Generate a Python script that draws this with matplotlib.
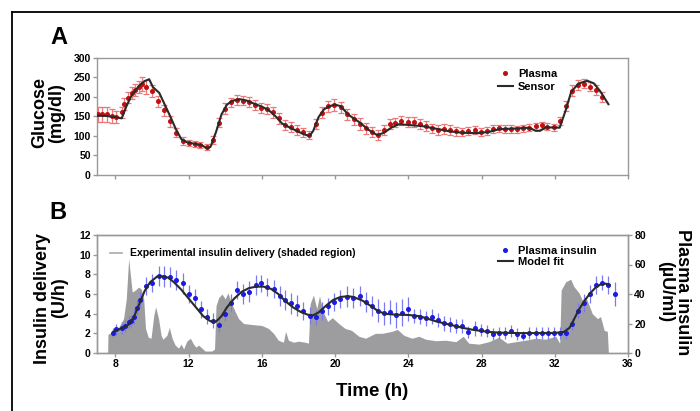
import matplotlib.pyplot as plt
from matplotlib.lines import Line2D

plt.rcParams["font.family"] = ["Liberation Sans", "DejaVu Sans"]
plt.rcParams["font.weight"] = "bold"

# ---- panel A: glucose ----
glu_t = [7.05, 7.3, 7.55, 7.8, 8.05, 8.35, 8.5, 8.7, 8.9, 9.1, 9.27, 9.45, 9.7, 10.0, 10.35,
         10.65, 11.0, 11.33, 11.67, 12.0, 12.33, 12.65, 13.0, 13.33, 13.65, 14.0, 14.3, 14.65,
         15.0, 15.3, 15.65, 15.95, 16.3, 16.6, 16.95, 17.27, 17.6, 17.95, 18.27, 18.6, 18.95,
         19.27, 19.62, 19.95, 20.3, 20.65, 21.03, 21.34, 21.67, 22.0, 22.32, 22.65, 22.98, 23.3,
         23.62, 23.96, 24.3, 24.64, 24.97, 25.3, 25.64, 25.97, 26.3, 26.62, 26.95, 27.28, 27.62,
         27.95, 28.28, 28.63, 28.95, 29.28, 29.63, 29.96, 30.28, 30.6, 30.96, 31.29, 31.6, 31.94,
         32.27, 32.6, 32.94, 33.27, 33.6, 33.95, 34.27, 34.6]
glu_plasma = [155, 155, 155, 152, 149, 160, 182, 198, 210, 218, 225, 232, 226, 215, 188,
              165, 137, 108, 88, 82, 80, 76, 71, 89, 134, 170, 186, 192,
              190, 186, 180, 172, 168, 160, 145, 128, 123, 115, 109, 102, 130,
              159, 176, 179, 173, 155, 142, 130, 119, 111, 102, 115, 130, 134,
              139, 136, 136, 130, 125, 119, 115, 117, 115, 112, 111, 112, 115,
              110, 113, 117, 119, 118, 117, 117, 119, 121, 125, 127, 124, 122,
              138, 176, 215, 230, 234, 226, 217, 199]
glu_err = [20, 20, 20, 18, 15, 15, 15, 15, 16, 16, 16, 18, 18, 15, 14,
           14, 13, 12, 10, 8, 8, 8, 8, 10, 12, 14, 12, 12,
           12, 13, 13, 13, 13, 14, 14, 13, 12, 12, 12, 10, 12,
           14, 14, 15, 14, 14, 14, 15, 14, 13, 12, 13, 12, 12,
           12, 12, 12, 12, 12, 12, 13, 13, 13, 12, 10, 10, 10,
           9, 10, 10, 10, 10, 10, 9, 9, 9, 9, 9, 9, 9,
           10, 12, 14, 13, 12, 12, 12, 12]

sensor_t = [7.0, 7.5, 8.0, 8.35, 8.6, 8.9, 9.3, 9.6, 9.85, 10.05, 10.4, 10.7, 11.0, 11.3, 11.6,
            11.9, 12.3, 12.7, 13.0, 13.2, 13.5, 13.8, 14.1, 14.4, 14.8, 15.2, 15.6, 16.0, 16.4,
            16.8, 17.1, 17.5, 17.9, 18.3, 18.6, 18.8, 19.1, 19.4, 19.7, 20.0, 20.3, 20.76, 21.3,
            21.85, 22.3, 22.67, 23.1, 23.5, 24.0, 24.77, 25.1, 25.68, 26.2, 26.95, 27.7, 28.4,
            28.95, 29.9, 30.6, 30.96, 31.2, 31.5, 32.27, 32.6, 32.9, 33.3, 33.78, 34.15, 34.5, 34.93]
sensor = [152, 151, 148, 145, 175, 205, 228, 240, 245, 225, 210, 180, 150, 118, 92,
          84, 80, 77, 68, 72, 110, 155, 180, 190, 194, 190, 182, 175, 165,
          148, 132, 122, 113, 104, 100, 112, 148, 168, 176, 180, 176, 153, 136,
          115, 102, 108, 122, 130, 128, 125, 122, 117, 112, 108, 107, 110,
          117, 119, 121, 113, 113, 122, 121, 166, 213, 234, 241, 234, 213, 181]

# ---- panel B: insulin ----
ins_t = [7.87, 8.04, 8.36, 8.55, 8.76, 8.87, 9.0, 9.18, 9.33, 9.7, 10.0, 10.36, 10.67, 11.0,
         11.33, 11.67, 12.0, 12.33, 12.67, 13.0, 13.33, 13.66, 14.0, 14.32, 14.66, 15.0, 15.3,
         15.66, 15.98, 16.3, 16.64, 16.97, 17.29, 17.6, 17.95, 18.27, 18.62, 18.96, 19.28, 19.64,
         19.97, 20.28, 20.64, 20.98, 21.34, 21.67, 22.0, 22.32, 22.65, 22.98, 23.31, 23.64, 23.96,
         24.31, 24.64, 24.97, 25.31, 25.64, 25.97, 26.3, 26.62, 26.95, 27.28, 27.62, 27.95, 28.28,
         28.63, 28.95, 29.28, 29.63, 29.96, 30.28, 30.61, 30.96, 31.29, 31.61, 31.94, 32.27, 32.62,
         32.94, 33.27, 33.6, 33.95, 34.27, 34.6, 34.93, 35.28]
ins_plasma = [13.8, 16.0, 16.7, 18.2, 21.2, 21.8, 24.6, 30.8, 36.2, 45.4, 47.5, 52.2, 51.7, 51.5,
              49.5, 47.2, 39.9, 37.4, 29.5, 24.6, 21.8, 19.3, 26.4, 34.2, 42.5, 39.9, 41.6,
              46.0, 47.2, 44.8, 43.2, 38.6, 35.9, 33.6, 32.2, 28.6, 25.4, 24.3, 28.4, 31.6,
              34.8, 36.5, 38.2, 37.3, 38.6, 34.6, 31.9, 28.7, 26.9, 27.8, 25.8, 27.3, 29.8,
              25.1, 24.6, 23.5, 24.6, 22.4, 20.1, 19.4, 18.3, 18.3, 14.5, 16.7, 15.6, 14.9,
              12.9, 13.8, 13.8, 14.9, 12.9, 11.8, 13.8, 13.3, 13.3, 13.3, 13.8, 13.8, 13.3,
              19.7, 28.7, 34.1, 40.0, 46.1, 47.7, 46.1, 39.8]
ins_err = [3, 4, 4, 4, 4, 4, 5, 5, 5, 6, 6, 7, 7, 7,
           7, 7, 6, 6, 6, 5, 5, 5, 5, 6, 6, 7, 7,
           7, 6, 6, 6, 7, 7, 7, 7, 6, 6, 5, 6, 6,
           6, 6, 7, 7, 7, 7, 7, 8, 8, 8, 9, 9, 8,
           5, 5, 5, 5, 5, 5, 5, 5, 5, 4, 5, 4, 4,
           4, 4, 4, 4, 4, 3, 4, 4, 4, 4, 4, 4, 4,
           4, 5, 6, 6, 6, 5, 6, 8]

fit_t = [7.9, 8.3, 8.7, 9.0, 9.3, 9.6, 9.9, 10.3, 10.6, 10.9, 11.2, 11.6, 12.0, 12.4, 12.8, 13.2,
         13.5, 13.8, 14.1, 14.5, 14.9, 15.3, 15.7, 16.1, 16.5, 16.9, 17.3, 17.7, 18.1, 18.5, 18.8,
         19.1, 19.5, 19.9, 20.3, 20.7, 21.0, 21.5, 22.0, 22.4, 22.8, 23.3, 24.0, 24.6, 25.0, 25.5,
         26.0, 26.5, 27.0, 27.5, 28.0, 28.5, 29.0, 30.0, 31.0, 32.0, 32.5, 32.8, 33.0, 33.3, 33.6,
         33.9, 34.2, 34.5, 34.8, 35.0]
fit = [14.5, 16.5, 19.0, 24.0, 33.0, 42.0, 48.0, 52.0, 52.0, 51.0, 48.0, 43.0, 37.0, 31.0, 25.0, 21.5,
       21.3, 25.0, 31.0, 37.0, 41.5, 44.0, 45.0, 45.0, 43.5, 40.0, 35.0, 31.0, 28.0, 26.0, 25.5,
       27.5, 32.0, 36.0, 38.0, 38.5, 38.0, 35.5, 31.5, 28.0, 26.5, 26.0, 25.8, 25.0, 23.5, 21.5,
       20.0, 18.5, 17.0, 15.8, 14.9, 14.2, 13.8, 13.5, 13.5, 13.6, 14.3, 17.0, 21.5, 29.0, 35.0,
       40.0, 44.0, 46.5, 47.0, 46.0]

deliv_t = [7.58, 7.6, 7.9, 8.18, 8.45, 8.6, 8.73, 8.82, 8.92, 9.1, 9.27, 9.42, 9.55, 9.65, 9.8,
           9.95, 10.1, 10.2, 10.36, 10.5, 10.6, 10.82, 10.95, 11.1, 11.27, 11.45, 11.6, 11.73,
           11.9, 12.1, 12.27, 12.4, 12.55, 12.73, 12.9, 13.27, 13.42, 13.5, 13.64, 13.82, 14.0,
           14.15, 14.36, 14.55, 14.73, 15.0, 15.45, 16.0, 16.36, 16.64, 16.9, 17.18, 17.3, 17.45,
           17.73, 18.0, 18.36, 18.55, 18.64, 18.82, 19.0, 19.15, 19.35, 19.6, 19.85, 20.2, 20.55,
           20.9, 21.3, 21.67, 22.2, 22.58, 23.1, 23.4, 23.76, 24.2, 24.58, 24.95, 25.5, 26.04,
           26.6, 27.0, 27.3, 27.86, 28.4, 28.95, 29.4, 29.87, 30.4, 30.96, 31.5, 32.05, 32.27,
           32.35, 32.6, 32.87, 33.05, 33.33, 33.5, 33.7, 34.05, 34.33, 34.5, 34.7, 34.87, 34.93]
deliv = [0, 1.9, 2.2, 2.6, 3.5, 5.5, 9.6, 8.0, 6.2, 6.4, 6.7, 6.5, 5.5, 2.5, 1.6,
         1.5, 3.8, 4.7, 3.5, 1.8, 1.4, 1.8, 2.6, 1.5, 0.8, 0.5, 0.9, 0.4,
         1.2, 1.5, 0.9, 0.6, 0.8, 0.5, 0.2, 0.2, 0.4, 4.8, 5.6, 6.0, 5.5,
         6.1, 5.0, 4.2, 3.5, 3.0, 2.9, 2.8, 2.5, 2.0, 1.3, 1.1, 2.2, 1.3,
         1.1, 1.2, 1.1, 1.0, 5.0, 5.9, 4.5, 5.8, 4.2, 3.2, 3.6, 3.0, 2.5,
         2.3, 1.7, 1.5, 2.0, 2.0, 2.2, 2.4, 1.8, 1.5, 1.7, 1.4, 1.25, 1.3,
         1.15, 1.7, 1.0, 0.9, 1.15, 1.6, 1.0, 1.15, 1.3, 1.5, 1.4, 1.7, 1.0,
         6.4, 7.25, 7.5, 6.75, 6.1, 5.4, 5.7, 4.0, 3.5, 3.7, 2.3, 2.2, 0]

x_ticks = [8, 12, 16, 20, 24, 28, 32, 36]

spine_col = "#999999"
red = "#c40e0e"
red_light = "#ea7a7a"
blue = "#1a1ae6"
blue_light = "#7a7af0"
grey_fill = "#9d9da0"
line_col = "#2a2a2a"


def style_axis(ax):
    for s in ax.spines.values():
        s.set_color(spine_col)
        s.set_linewidth(1.0)
    ax.tick_params(direction="out", length=3, width=1, color=spine_col,
                   labelsize=7.5, pad=1.5)
    for lab in ax.get_xticklabels() + ax.get_yticklabels():
        lab.set_fontweight("bold")


fig = plt.figure(figsize=(7, 4.11), dpi=100)

# outer frame lines
fig.add_artist(Line2D([12 / 700, 12 / 700], [0, 1 - 12 / 411], color="black", lw=1.3))
fig.add_artist(Line2D([12 / 700, 1], [1 - 12 / 411, 1 - 12 / 411], color="black", lw=1.3))

# ---- A ----
axA = fig.add_axes([97 / 700, 1 - 175 / 411, 531 / 700, 117.3 / 411])
axA.errorbar(glu_t, glu_plasma, yerr=glu_err, fmt="o", ms=2.6, color=red, ecolor=red_light,
             elinewidth=0.9, capsize=2, capthick=0.9, zorder=3)
axA.plot(sensor_t, sensor, color=line_col, lw=1.5, zorder=4)
axA.set_xlim(7, 36)
axA.set_ylim(0, 300)
axA.set_xticks(x_ticks)
axA.set_xticklabels([])
axA.set_yticks(range(0, 301, 50))
style_axis(axA)
leg_a = [Line2D([], [], ls="none", marker="o", ms=2.6, color=red),
         Line2D([], [], color=line_col, lw=1.5)]
axA.legend(leg_a, ["Plasma", "Sensor"], loc="upper left", bbox_to_anchor=(0.745, 0.95),
           frameon=False, handlelength=1.3, handletextpad=0.5,
           labelspacing=0.25, borderpad=0, prop={"weight": "bold", "size": 8})

# ---- B ----
axB = fig.add_axes([97 / 700, 1 - 353 / 411, 531 / 700, 118 / 411])
axB.fill_between(deliv_t, 0, deliv, color=grey_fill, lw=0, zorder=1)
axB.set_xlim(7, 36)
axB.set_ylim(0, 12)
axB.set_xticks(x_ticks)
axB.set_yticks(range(0, 13, 2))
style_axis(axB)
grey_handle = Line2D([], [], color="#aaaaaa", lw=1.2)
axB.legend([grey_handle], ["Experimental insulin delivery (shaded region)"], loc="upper left",
           bbox_to_anchor=(0.015, 0.93), frameon=False, handlelength=1.1, handletextpad=0.8,
           borderpad=0, prop={"weight": "bold", "size": 7.5})

axR = axB.twinx()
axR.errorbar(ins_t, ins_plasma, yerr=ins_err, fmt="o", ms=2.6, color=blue, ecolor=blue_light,
             elinewidth=0.9, capsize=0, zorder=3)
axR.plot(fit_t, fit, color=line_col, lw=1.5, zorder=4)
axR.set_ylim(0, 80)
axR.set_yticks(range(0, 81, 20))
style_axis(axR)
leg_b = [Line2D([], [], ls="none", marker="o", ms=2.6, color=blue),
         Line2D([], [], color=line_col, lw=1.5)]
axR.legend(leg_b, ["Plasma insulin", "Model fit"], loc="upper left",
           bbox_to_anchor=(0.745, 0.955), frameon=False, handlelength=1.3, handletextpad=0.5,
           labelspacing=0.1, borderpad=0, prop={"weight": "bold", "size": 8})

# labels
fig.text(48 / 700, 1 - 113 / 411, "Glucose\n(mg/dl)", rotation=90, ha="center", va="center",
         fontsize=13, fontweight="bold", linespacing=1.0)
fig.text(51 / 700, 1 - 298 / 411, "Insulin delivery\n(U/h)", rotation=90, ha="center",
         va="center", fontsize=13, fontweight="bold", linespacing=1.0)
fig.text(674 / 700, 1 - 292 / 411, "Plasma insulin\n(\u00b5U/ml)", rotation=-90, ha="center",
         va="center", fontsize=13, fontweight="bold", linespacing=1.0)
fig.text(372 / 700, 1 - 391 / 411, "Time (h)", ha="center", va="center", fontsize=13.5,
         fontweight="bold")
fig.text(59 / 700, 1 - 37 / 411, "A", ha="center", va="center", fontsize=17, fontweight="bold")
fig.text(58 / 700, 1 - 212 / 411, "B", ha="center", va="center", fontsize=17, fontweight="bold")

fig.savefig("out.png", dpi=100)
